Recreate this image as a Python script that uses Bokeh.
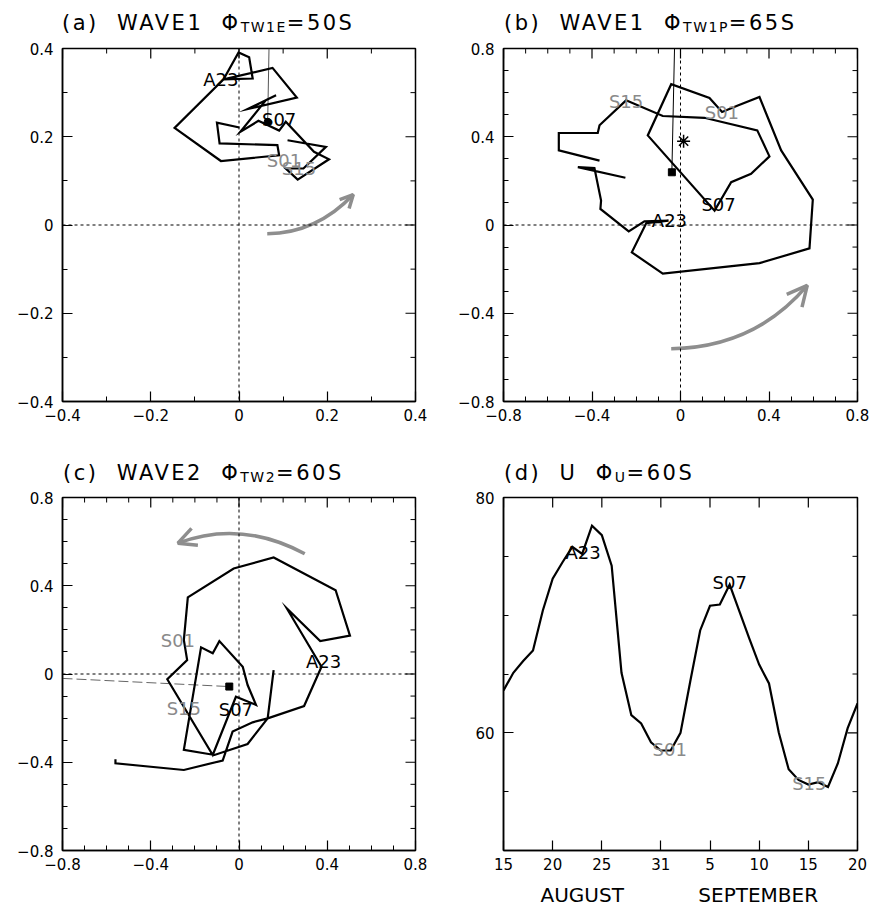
import math
from bokeh.plotting import figure
from bokeh.models import Range1d, FixedTicker, LinearAxis, Span, Arrow, OpenHead, Div
from bokeh.layouts import row, column
from bokeh.embed import file_html
from bokeh.resources import INLINE
from bokeh.core.properties import value

FONT = "DejaVu Sans"
GREY_TXT = "#8a8a8a"
ARROW_C = "#8e8e8e"

# ---------------- data ----------------
# (a) WAVE1 at 50S : hodograph
a_x = [0.001, -0.050, -0.044, 0.087, 0.091, -0.041, -0.146, -0.035, -0.001, 0.023, 0.031, -0.035,
       0.076, 0.131, 0.020, 0.084, 0.061, 0.003, 0.044, 0.091, 0.106, 0.170, 0.204, 0.133, 0.106,
       0.146, 0.197, 0.110]
a_y = [0.221, 0.232, 0.185, 0.181, 0.158, 0.145, 0.220, 0.330, 0.391, 0.380, 0.332, 0.330,
       0.356, 0.289, 0.263, 0.294, 0.283, 0.211, 0.236, 0.214, 0.234, 0.166, 0.149, 0.103, 0.128,
       0.128, 0.177, 0.192]
a_tag_text = ["A23", "S07", "S01", "S15"]
a_tag_x = [-0.041, 0.091, 0.102, 0.136]
a_tag_y = [0.330, 0.239, 0.146, 0.128]
a_dot = (0.065, 0.234)
a_ref_line_x = [0.068, 0.065]
a_ref_line_y = [0.400, 0.234]

# (b) WAVE1 at 65S
b_x = [-0.249, -0.464, -0.389, -0.359, -0.362, -0.234, -0.163, -0.054, -0.155, -0.220, -0.080,
       0.357, 0.583, 0.598, 0.455, 0.357, 0.259, 0.188, 0.131, -0.042, -0.148, 0.154, 0.229,
       0.319, 0.402, 0.347, 0.108, -0.080, -0.246, -0.366, -0.374, -0.550, -0.550, -0.366]
b_y = [0.214, 0.262, 0.258, 0.111, 0.073, -0.029, 0.017, 0.020, 0.008, -0.124, -0.220,
       -0.173, -0.106, 0.115, 0.338, 0.580, 0.542, 0.512, 0.576, 0.638, 0.406, 0.065, 0.194,
       0.232, 0.311, 0.429, 0.486, 0.494, 0.565, 0.452, 0.417, 0.417, 0.338, 0.292]
b_tag_text = ["A23", "S07", "S01", "S15"]
b_tag_x = [-0.050, 0.172, 0.187, -0.246]
b_tag_y = [0.020, 0.094, 0.512, 0.562]
b_square = (-0.039, 0.239)
b_star = (0.014, 0.380)
b_ref_line_x = [-0.027, -0.039]
b_ref_line_y = [0.800, 0.239]

# (c) WAVE2 at 60S
c_x = [-0.560, -0.560, -0.250, -0.074, -0.029, 0.062, 0.130, 0.295, 0.374, 0.217, 0.368, 0.503,
       0.438, 0.157, -0.024, -0.232, -0.250, -0.235, -0.325, -0.119, -0.014, 0.077, 0.039, 0.017,
       -0.089, -0.119, -0.172, -0.250, -0.111, 0.039, 0.130, 0.157]
c_y = [-0.386, -0.405, -0.435, -0.392, -0.261, -0.219, -0.201, -0.145, 0.033, 0.297, 0.149, 0.174,
       0.380, 0.528, 0.478, 0.347, 0.154, 0.063, -0.024, -0.367, -0.103, -0.140, -0.050, 0.033,
       0.149, 0.094, 0.121, -0.344, -0.367, -0.317, -0.201, 0.018]
c_tag_text = ["A23", "S07", "S01", "S15"]
c_tag_x = [0.383, -0.014, -0.277, -0.250]
c_tag_y = [0.056, -0.163, 0.154, -0.155]
c_square = (-0.044, -0.057)
c_ref_line_x = [-0.800, -0.044]
c_ref_line_y = [-0.020, -0.057]

# (d) U at 60S, daily from 15 August to 20 September
d_day = list(range(37))
d_u = [63.6, 65.1, 66.1, 67.0, 70.4, 73.1, 74.5, 75.8, 75.2, 77.6, 76.8, 74.2, 65.1, 61.5, 60.8,
       59.2, 58.5, 58.5, 60.0, 64.4, 68.7, 70.8, 70.9, 72.6, 70.3, 68.0, 65.8, 64.2, 60.0, 56.9,
       56.0, 55.6, 55.8, 55.4, 57.4, 60.4, 62.5]
d_tag_text = ["A23", "S07", "S01", "S15"]
d_tag_x = [8.1, 23.0, 16.9, 31.1]
d_tag_y = [75.3, 72.8, 58.6, 55.7]
d_xticks = [0, 5, 10, 16, 21, 26, 31, 36]
d_xtick_labels = ["15", "20", "25", "31", "5", "10", "15", "20"]
d_months = ["AUGUST", "SEPTEMBER"]
d_month_x = [8.0, 25.9]
d_yticks = [60, 80]
d_yminor = [55, 65, 70, 75]
d_ytick_labels = ["60", "80"]

tag_colors = ["black", "black", GREY_TXT, GREY_TXT]

ticks_a = [-0.4, -0.2, 0.0, 0.2, 0.4]
minor_a = [-0.3, -0.1, 0.1, 0.3]
labels_a = ["\u22120.4", "\u22120.2", "0", "0.2", "0.4"]
ticks_bc = [-0.8, -0.4, 0.0, 0.4, 0.8]
minor_bc = [-0.7, -0.6, -0.5, -0.3, -0.2, -0.1, 0.1, 0.2, 0.3, 0.5, 0.6, 0.7]
labels_bc = ["\u22120.8", "\u22120.4", "0", "0.4", "0.8"]

# panel titles: (label, variable, subscript, latitude)
title_a = ("(a)", "WAVE1", "TW1E", "50S")
title_b = ("(b)", "WAVE1", "TW1P", "65S")
title_c = ("(c)", "WAVE2", "TW2", "60S")
title_d = ("(d)", "U", "U", "60S")

# rotation-sense arrows: start, control, end
arrow_a = [(0.064, -0.020), (0.1765, -0.0185), (0.259, 0.069)]
arrow_b = [(-0.042, -0.561), (0.3365, -0.5545), (0.573, -0.274)]
arrow_c = [(0.298, 0.545), (0.0075, 0.701), (-0.277, 0.593)]

MAJOR_LEN = 10
MINOR_LEN = 5


# ---------------- helpers ----------------
def base_fig(w, h, bl, br, bt, bb, xr, yr):
    p = figure(width=w, height=h, x_range=Range1d(*xr), y_range=Range1d(*yr),
               x_axis_location=None, y_axis_location=None,
               output_backend="svg", toolbar_location=None,
               min_border_left=bl, min_border_right=br, min_border_top=bt, min_border_bottom=bb,
               background_fill_color="white", border_fill_color="white")
    p.grid.visible = False
    p.outline_line_color = "black"
    p.outline_line_width = 1.5
    return p


def add_axes(p, xt, xm, xl, yt, ym, yl):
    for loc, ticks, minor, labels in (("below", xt, xm, xl), ("left", yt, ym, yl)):
        ax = LinearAxis(ticker=FixedTicker(ticks=ticks, minor_ticks=minor))
        ax.axis_line_width = 1.5
        ax.major_tick_in = MAJOR_LEN
        ax.major_tick_out = 0
        ax.minor_tick_in = MINOR_LEN
        ax.minor_tick_out = 0
        ax.major_tick_line_width = 1.2
        ax.minor_tick_line_width = 1.0
        ax.major_label_overrides = {t: s for t, s in zip(ticks, labels)}
        ax.major_label_text_font = FONT
        ax.major_label_text_font_size = "15px"
        ax.major_label_text_color = "black"
        ax.major_label_standoff = 9 if loc == "left" else 7
        p.add_layout(ax, loc)
    # inward ticks on the top and right frame edges (outer halves are clipped by the frame)
    top, right = p.y_range.end, p.x_range.end
    for ticks, size, lw in ((xt, 2 * MAJOR_LEN, 1.2), (xm, 2 * MINOR_LEN, 1.0)):
        if ticks:
            p.scatter(x=ticks, y=[top] * len(ticks), marker="dash", size=size,
                      angle=math.pi / 2, line_color="black", line_width=lw)
    for ticks, size, lw in ((yt, 2 * MAJOR_LEN, 1.2), (ym, 2 * MINOR_LEN, 1.0)):
        if ticks:
            p.scatter(x=[right] * len(ticks), y=ticks, marker="dash", size=size,
                      line_color="black", line_width=lw)


def title_div(w, h, pad_left, pad_top, parts):
    lab, var, sub, lat = parts
    html = (
        f'<div style="padding-left:{pad_left}px;padding-top:{pad_top}px;'
        f"font-family:'DejaVu Sans';font-size:21px;line-height:22px;color:black;"
        f'white-space:nowrap;letter-spacing:2.5px;">'
        f'{lab}&nbsp;&nbsp;{var}&nbsp;&nbsp;\u03a6'
        f'<sub style="font-size:14px;vertical-align:-2px;letter-spacing:1.5px;line-height:0;">'
        f'{sub}</sub>={lat}</div>'
    )
    return Div(text=html, width=w, height=h, margin=(0, 0, 0, 0))


def add_tags(p, xs, ys, texts):
    p.text(x=xs, y=ys, text=texts, text_color=tag_colors, text_font=value(FONT),
           text_font_size="18px", text_align="center", text_baseline="middle")


def add_zero_lines(p):
    for dim in ("width", "height"):
        p.add_layout(Span(location=0, dimension=dim, line_color="black", line_width=1,
                          line_dash="3 3"))


def add_curved_arrow(p, arr, head):
    (sx, sy), (cx, cy), (ex, ey) = arr
    p.quadratic(x0=[sx], y0=[sy], x1=[ex], y1=[ey], cx=[cx], cy=[cy],
                line_color=ARROW_C, line_width=3.5)
    p.add_layout(Arrow(end=OpenHead(size=head, line_color=ARROW_C, line_width=3.5),
                       x_start=cx, y_start=cy, x_end=ex, y_end=ey, line_alpha=0.0))


# ---------------- panel (a) ----------------
ta = title_div(430, 36, 62, 12, title_a)
pa = base_fig(430, 404, 62, 15, 12, 39, (-0.4, 0.4), (-0.4, 0.4))
add_axes(pa, ticks_a, minor_a, labels_a, ticks_a, minor_a, labels_a)
add_zero_lines(pa)
pa.line(a_ref_line_x, a_ref_line_y, line_color="#555555", line_width=1)
pa.line(a_x, a_y, line_color="black", line_width=2.2, line_join="miter")
pa.scatter([a_dot[0]], [a_dot[1]], marker="circle", size=7, color="black")
add_tags(pa, a_tag_x, a_tag_y, a_tag_text)
add_curved_arrow(pa, arrow_a, 13)

# ---------------- panel (b) ----------------
tb = title_div(440, 36, 74, 12, title_b)
pb = base_fig(440, 404, 73, 13, 12, 39, (-0.8, 0.8), (-0.8, 0.8))
add_axes(pb, ticks_bc, minor_bc, labels_bc, ticks_bc, minor_bc, labels_bc)
add_zero_lines(pb)
pb.line(b_ref_line_x, b_ref_line_y, line_color="black", line_width=1)
pb.line(b_x, b_y, line_color="black", line_width=2.2, line_join="miter")
pb.scatter([b_square[0]], [b_square[1]], marker="square", size=7, color="black")
pb.scatter([b_star[0]], [b_star[1]], marker="asterisk", size=13, line_color="black",
           line_width=1.5)
add_tags(pb, b_tag_x, b_tag_y, b_tag_text)
add_curved_arrow(pb, arrow_b, 20)

# ---------------- panel (c) ----------------
tc = title_div(430, 45, 63, 22, title_c)
pc = base_fig(430, 422, 62, 15, 12, 57, (-0.8, 0.8), (-0.8, 0.8))
add_axes(pc, ticks_bc, minor_bc, labels_bc, ticks_bc, minor_bc, labels_bc)
add_zero_lines(pc)
pc.line(c_ref_line_x, c_ref_line_y, line_color="#666666", line_width=1, line_dash="10 4")
pc.line(c_x, c_y, line_color="black", line_width=2.2, line_join="miter")
pc.scatter([c_square[0]], [c_square[1]], marker="square", size=7, color="black")
add_tags(pc, c_tag_x, c_tag_y, c_tag_text)
add_curved_arrow(pc, arrow_c, 18)

# ---------------- panel (d) ----------------
td = title_div(440, 45, 74, 22, title_d)
pd_ = base_fig(440, 395, 73, 13, 12, 30, (0, 36), (50, 80))
add_axes(pd_, d_xticks, [], d_xtick_labels, d_yticks, d_yminor, d_ytick_labels)
pd_.line(d_day, d_u, line_color="black", line_width=2.2, line_join="miter")
add_tags(pd_, d_tag_x, d_tag_y, d_tag_text)
md = figure(width=440, height=27, x_range=Range1d(0, 36), y_range=Range1d(0, 27),
            x_axis_location=None, y_axis_location=None, output_backend="svg",
            toolbar_location=None, min_border=0, min_border_left=73, min_border_right=13,
            min_border_top=0, min_border_bottom=0, border_fill_color="white")
md.grid.visible = False
md.outline_line_color = None
md.text(x=d_month_x, y=[13] * len(d_months), text=d_months, text_font=value(FONT),
        text_font_size="20px", text_color="black", text_align="center", text_baseline="middle")

layout = column(row(column(ta, pa), column(tb, pb)),
                row(column(tc, pc), column(td, pd_, md)))
open("out.html", "w").write(file_html(layout, INLINE))
